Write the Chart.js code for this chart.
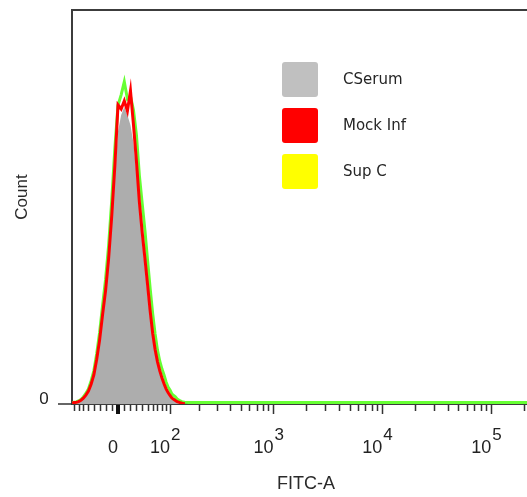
<!DOCTYPE html>
<html>
<head>
<meta charset="utf-8">
<script src="https://cdn.jsdelivr.net/npm/chart.js@4.4.1/dist/chart.umd.min.js"></script>
<style>
  html, body { margin: 0; padding: 0; background: #fff; }
  #wrap { width: 527px; height: 497px; position: relative; }
</style>
</head>
<body>
<div id="wrap"><canvas id="c"></canvas></div>
<script>
// FITC-A bin centres (the linear part of the biexponential axis)
const fitcBins = [-85, -80, -75, -70, -65, -60, -55, -50, -45, -40, -35, -30, -25, -20, -15, -10, -5,
  0, 5, 10, 15, 20, 25, 30, 35, 40, 45, 50, 55, 60, 65, 70, 75, 80, 85, 90, 95, 100,
  105, 110, 115, 120, 125, 130, 135, 140, 145];

const cSerum = [0.1, 0.3, 0.5, 0.9, 1.5, 2.5, 3.9, 5.8, 9, 13.3, 20.5, 29.5, 41.5, 53, 68.5, 88.5, 112,
  135, 143, 147, 143, 138, 129, 114, 95, 80, 67, 54, 42, 32, 24.5, 19, 15, 11.7, 9, 6.7, 5.1, 3.7,
  2.6, 2.0, 1.4, 1.0, 0.7, 0.4, 0.2, 0.1, 0];

const mockInf = [0.5, 0.7, 0.8, 1.2, 1.8, 2.9, 4.4, 6.4, 9.8, 14.4, 22, 31.5, 44, 56, 72, 93, 118,
  148, 146, 150, 145, 155, 138, 120, 100, 85, 72, 59, 46, 35, 27, 21, 16.5, 13, 10, 7.5, 5.7, 4.2,
  3.0, 2.3, 1.7, 1.2, 0.9, 0.6, 0.4, 0.2, 0.1];

const supC = [0.8, 0.9, 1.0, 1.5, 2.2, 3.5, 5.2, 7.4, 11.4, 16.4, 24.8, 35.2, 48.6, 61.5, 78.4, 100.7, 126.5,
  147.9, 153, 159.5, 151, 152.3, 145.4, 133.0, 113.2, 99.3, 85.9, 71.0, 57.1, 44.7, 34.7, 26.8, 21.3, 17.4, 14.4, 10.9, 8.4, 6.9,
  5.0, 4.2, 3.5, 2.5, 2.0, 1.5, 1.2, 1.0, 0.9];

// Sup C keeps running along the baseline to the end of the axis
const supTailX = [160, 213000];
const supTailY = [0.8, 0.8];

const majorTicks = [0, 100, 1000, 10000, 100000];
const tickBase = ['0', '10', '10', '10', '10'];
const tickExp = ['', '2', '3', '4', '5'];

const legendLabels = ['CSerum', 'Mock Inf', 'Sup C'];
const legendColors = ['#c0c0c0', '#ff0000', '#ffff00'];

// biexponential (arcsinh) x scale, like a cytometry display
const W = 75;
class BiexScale extends Chart.LinearScale {
  configure() {
    super.configure();
    this._tMin = Math.asinh(this.min / W);
    this._tMax = Math.asinh(this.max / W);
  }
  getPixelForValue(v) {
    return this.getPixelForDecimal((Math.asinh(v / W) - this._tMin) / (this._tMax - this._tMin));
  }
  getValueForPixel(p) {
    const t = this._tMin + this.getDecimalForPixel(p) * (this._tMax - this._tMin);
    return W * Math.sinh(t);
  }
}
BiexScale.id = 'biex';
BiexScale.defaults = Chart.LinearScale.defaults;
Chart.register(BiexScale);

const xMin = -85, xMax = 213000;

const minorTicks = [];
for (let k = 1; k <= 8; k++) minorTicks.push(-10 * k);
for (let k = 1; k <= 9; k++) minorTicks.push(10 * k);
[100, 1000, 10000, 100000].forEach(d => { for (let k = 2; k <= 9; k++) if (d * k < xMax) minorTicks.push(d * k); });

const pts = (xs, ys) => xs.map((x, i) => ({x: x, y: ys[i]}));
const FONT = '"Liberation Sans", Arial, sans-serif';

const decor = {
  id: 'decor',
  afterDraw(chart) {
    const {ctx, chartArea: a, scales: {x, y}} = chart;
    ctx.save();
    ctx.strokeStyle = '#3c3c3c';
    ctx.lineWidth = 2;
    ctx.beginPath();
    ctx.moveTo(a.left - 1, a.top);
    ctx.lineTo(a.right, a.top);
    ctx.stroke();

    // x tick marks
    ctx.strokeStyle = '#333';
    ctx.lineWidth = 1.5;
    ctx.beginPath();
    minorTicks.forEach(v => {
      const px = Math.round(x.getPixelForValue(v)) + 0.5;
      ctx.moveTo(px, a.bottom + 1);
      ctx.lineTo(px, a.bottom + 7);
    });
    majorTicks.slice(1).forEach(v => {
      const px = Math.round(x.getPixelForValue(v)) + 0.5;
      ctx.moveTo(px, a.bottom + 1);
      ctx.lineTo(px, a.bottom + 10);
    });
    ctx.stroke();
    ctx.lineWidth = 4;
    ctx.strokeStyle = '#111';
    ctx.beginPath();
    const p0 = x.getPixelForValue(0);
    ctx.moveTo(p0, a.bottom + 1);
    ctx.lineTo(p0, a.bottom + 10);
    ctx.stroke();

    // x tick labels
    ctx.fillStyle = '#222';
    ctx.textBaseline = 'alphabetic';
    majorTicks.forEach((v, i) => {
      const px = x.getPixelForValue(v);
      ctx.font = '18px ' + FONT;
      if (!tickExp[i]) {
        ctx.textAlign = 'center';
        ctx.fillText(tickBase[i], px - 5, 453);
      } else {
        ctx.textAlign = 'right';
        ctx.fillText(tickBase[i], px, 453);
        ctx.textAlign = 'left';
        ctx.font = '17px ' + FONT;
        ctx.fillText(tickExp[i], px + 1, 440);
      }
    });

    // y zero tick + label
    const y0 = y.getPixelForValue(0);
    ctx.strokeStyle = '#333';
    ctx.lineWidth = 1.5;
    ctx.beginPath();
    ctx.moveTo(58, y0);
    ctx.lineTo(a.left, y0);
    ctx.stroke();
    ctx.font = '17px ' + FONT;
    ctx.textAlign = 'center';
    ctx.textBaseline = 'middle';
    ctx.fillText('0', 44, y0 - 5);

    // axis titles
    ctx.fillStyle = '#2a2a2a';
    ctx.font = '18px ' + FONT;
    ctx.fillText('FITC-A', 306, 484);
    ctx.save();
    ctx.translate(22, 197);
    ctx.rotate(-Math.PI / 2);
    ctx.font = '17px ' + FONT;
    ctx.fillText('Count', 0, 0);
    ctx.restore();

    // legend
    legendLabels.forEach((lab, i) => {
      const top = 62 + i * 46;
      ctx.fillStyle = legendColors[i];
      ctx.beginPath();
      ctx.roundRect(282, top, 36, 35, 3);
      ctx.fill();
      ctx.fillStyle = '#262626';
      ctx.textAlign = 'left';
      ctx.textBaseline = 'middle';
      ctx.font = '15px "DejaVu Sans", sans-serif';
      ctx.fillText(lab, 343, top + 18);
    });
    ctx.restore();
  }
};

new Chart(document.getElementById('c'), {
  type: 'line',
  data: {
    datasets: [
      {
        label: 'Mock Inf',
        data: pts(fitcBins, mockInf),
        borderColor: '#ff0000',
        borderWidth: 3,
        pointRadius: 0,
        fill: false,
        order: 1
      },
      {
        label: 'Sup C',
        data: pts(fitcBins, supC).concat(pts(supTailX, supTailY)),
        borderColor: '#66ff33',
        borderWidth: 3,
        pointRadius: 0,
        fill: false,
        order: 2
      },
      {
        label: 'CSerum',
        data: pts(fitcBins, cSerum),
        borderWidth: 0,
        borderColor: 'rgba(0,0,0,0)',
        backgroundColor: '#adadad',
        pointRadius: 0,
        fill: 'origin',
        order: 3
      }
    ]
  },
  options: {
    responsive: true,
    maintainAspectRatio: false,
    animation: false,
    layout: { padding: { left: 72, top: 10, right: 0, bottom: 93 } },
    scales: {
      x: {
        type: 'biex',
        min: xMin,
        max: xMax,
        ticks: { display: false },
        grid: { display: false, drawTicks: false },
        border: { display: true, color: '#3c3c3c', width: 2 }
      },
      y: {
        min: 0,
        max: 195,
        ticks: { display: false },
        grid: { display: false, drawTicks: false },
        border: { display: true, color: '#3c3c3c', width: 2 }
      }
    },
    plugins: {
      legend: { display: false },
      tooltip: { enabled: false }
    }
  },
  plugins: [decor]
});
</script>
</body>
</html>
